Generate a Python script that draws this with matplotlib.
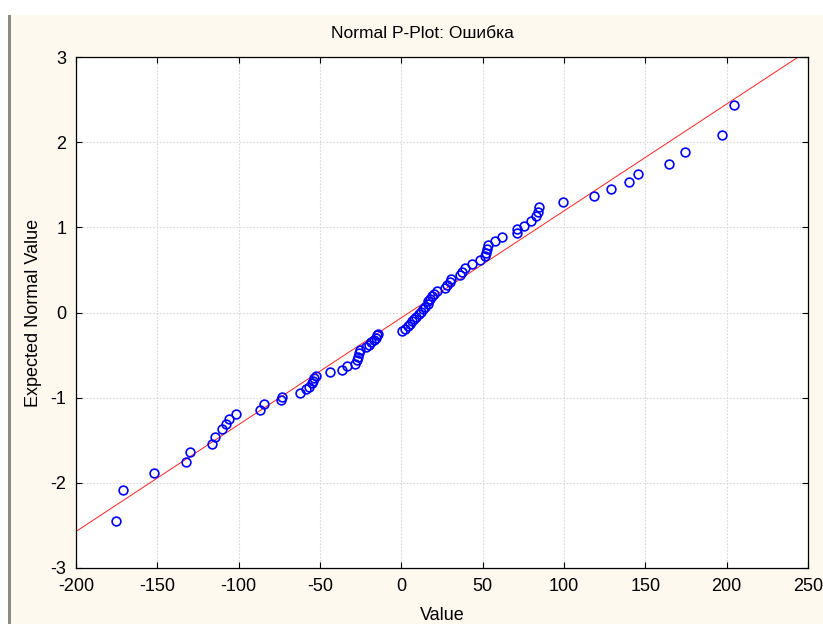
import matplotlib.pyplot as plt
from matplotlib.patches import Rectangle
import numpy as np

# Observed residuals (Ошибка) and their expected normal values
values = [-175.4, -171.3, -152.2, -132.3, -129.7, -116.4, -114.3, -110.2, -107.6, -106.1,
          -101.4, -87.1, -84.2, -73.8, -73.2, -62.0, -58.6, -56.5, -55.1, -54.5,
          -53.5, -52.4, -43.6, -36.5, -33.7, -28.3, -27.2, -26.6, -26.2, -25.2,
          -21.5, -20.1, -18.6, -17.0, -15.5, -14.9, -14.6,
          0.4, 2.5, 3.9, 5.5, 6.6, 8.0, 9.2, 10.6, 12.1, 13.3,
          14.8, 16.2, 16.5, 17.4, 18.9, 19.9, 22.0, 27.0, 28.1, 29.7,
          30.5, 35.8, 37.3, 39.3, 43.4, 48.1, 51.6, 52.2, 52.7, 53.2,
          57.8, 61.9, 71.1, 71.1, 75.2, 79.9, 83.0, 83.8, 84.8, 99.6,
          118.6, 128.9, 139.7, 145.5, 164.3, 174.6, 197.1, 204.3]
expected = [-2.45, -2.09, -1.89, -1.75, -1.64, -1.54, -1.46, -1.37, -1.31, -1.25,
            -1.19, -1.14, -1.08, -1.03, -0.99, -0.94, -0.90, -0.87, -0.83, -0.80,
            -0.77, -0.74, -0.70, -0.67, -0.63, -0.60, -0.56, -0.52, -0.48, -0.44,
            -0.41, -0.38, -0.35, -0.32, -0.30, -0.27, -0.25,
            -0.22, -0.19, -0.16, -0.13, -0.10, -0.08, -0.05, -0.02, 0.01, 0.04,
            0.07, 0.10, 0.13, 0.16, 0.19, 0.22, 0.25, 0.29, 0.32, 0.36,
            0.39, 0.44, 0.48, 0.52, 0.57, 0.62, 0.66, 0.70, 0.74, 0.79,
            0.84, 0.89, 0.93, 0.98, 1.02, 1.07, 1.13, 1.18, 1.24, 1.30,
            1.37, 1.45, 1.53, 1.63, 1.74, 1.89, 2.09, 2.44]

# Reference normal line parameters
mean = 4.9
sd = 79.7

x_ticks = [-200, -150, -100, -50, 0, 50, 100, 150, 200, 250]
y_ticks = [-3, -2, -1, 0, 1, 2, 3]

plt.rcParams['font.family'] = ['Liberation Sans', 'DejaVu Sans']
plt.rcParams['axes.unicode_minus'] = False

fig = plt.figure(figsize=(8.23, 6.24), dpi=100)
fig.patch.set_facecolor('#fdf9ee')

# white strips at the top and left edge, grey frame bar
fig.patches.append(Rectangle((0, 1 - 15 / 624), 1, 15 / 624, transform=fig.transFigure,
                             facecolor='white', edgecolor='none', zorder=0))
fig.patches.append(Rectangle((0, 0), 8 / 823, 1, transform=fig.transFigure,
                             facecolor='white', edgecolor='none', zorder=0))
fig.patches.append(Rectangle((8 / 823, 0), 3 / 823, 1 - 15 / 624, transform=fig.transFigure,
                             facecolor='#8c8c84', edgecolor='none', zorder=1))

ax = fig.add_axes([76 / 823, 1 - 568 / 624, 732 / 823, 511 / 624])
ax.set_facecolor('white')

xs = np.array([-200, 250])
ax.plot(xs, (xs - mean) / sd, color='#ff2020', lw=0.7, zorder=2)
ax.plot(values, expected, linestyle='none', marker='o', markersize=6.3,
        markerfacecolor='none', markeredgecolor='#0000ff', markeredgewidth=1.2, zorder=3)

ax.set_xlim(-200, 250)
ax.set_ylim(-3, 3)
ax.set_xticks(x_ticks)
ax.set_yticks(y_ticks)
ax.grid(True, color='#d8d8d8', linestyle=(0, (1.5, 1.5)), linewidth=0.8)
ax.set_axisbelow(True)
ax.tick_params(direction='in', length=4, width=0.8, top=True, right=True,
               labelsize=13, pad=7)
for s in ax.spines.values():
    s.set_linewidth(0.9)

fig.text(422 / 823, 1 - 33 / 624, 'Normal P-Plot: Ошибка', fontsize=12.5,
         ha='center', va='center')
ax.set_xlabel('Value', fontsize=13, labelpad=9)
ax.set_ylabel('Expected Normal Value', fontsize=13, labelpad=6)

fig.savefig('out.png', dpi=100, facecolor=fig.get_facecolor())
